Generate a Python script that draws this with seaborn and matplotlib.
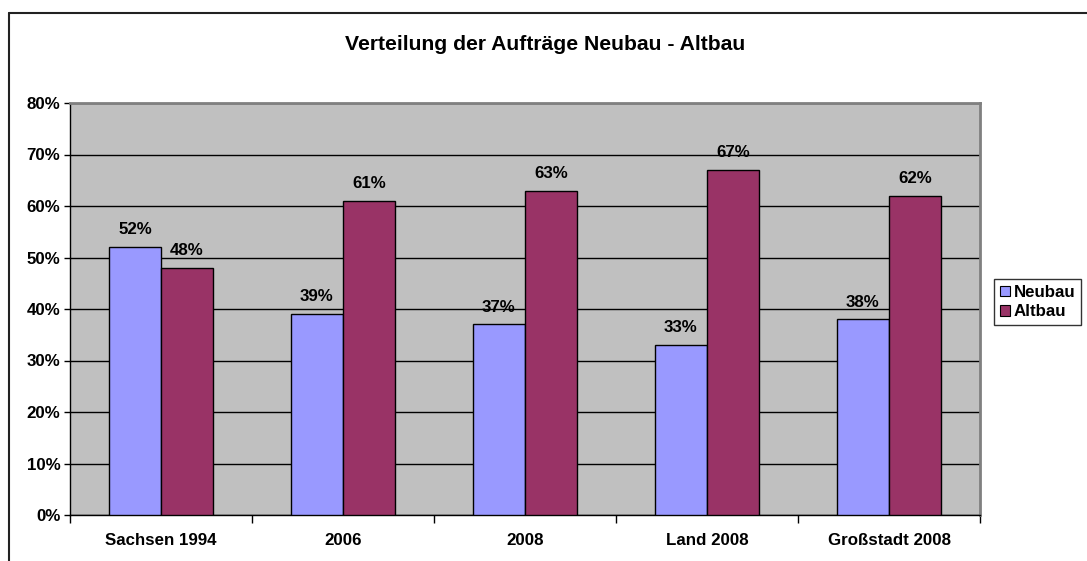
import matplotlib
matplotlib.use("Agg")
import matplotlib.pyplot as plt
import seaborn as sns
import pandas as pd
from matplotlib.lines import Line2D
from matplotlib.patches import Patch
from matplotlib.ticker import FixedLocator

categories = ["Sachsen 1994", "2006", "2008", "Land 2008", "Großstadt 2008"]
neubau = [52, 39, 37, 33, 38]
altbau = [48, 61, 63, 67, 62]
series = ["Neubau", "Altbau"]
colors = ["#9999FF", "#993366"]
yticks = [0, 10, 20, 30, 40, 50, 60, 70, 80]

df = pd.DataFrame({
    "Kategorie": categories * 2,
    "Serie": [series[0]] * len(categories) + [series[1]] * len(categories),
    "Wert": neubau + altbau,
})

sns.set_theme(style="white")
plt.rcParams["font.family"] = ["Liberation Sans", "DejaVu Sans"]
plt.rcParams["font.weight"] = "bold"
plt.rcParams["text.color"] = "black"
plt.rcParams["axes.labelcolor"] = "black"
plt.rcParams["xtick.color"] = "black"
plt.rcParams["ytick.color"] = "black"

FS = 12.2

fig = plt.figure(figsize=(10.87, 5.61), dpi=100)
ax = fig.add_axes([70 / 1087, 1 - 515 / 561, 910 / 1087, 412 / 561])
ax.set_facecolor("#C0C0C0")

sns.barplot(data=df, x="Kategorie", y="Wert", hue="Serie", order=categories,
            hue_order=series, palette=colors, width=0.572, gap=0,
            edgecolor="black", linewidth=1, saturation=1, ax=ax, legend=False,
            zorder=3)

ax.set_ylim(0, 80)
ax.set_xlim(-0.5, len(categories) - 0.5)
ax.set_yticks(yticks)
ax.set_yticklabels([f"{v}%" for v in yticks], fontsize=FS, fontweight="bold",
                   color="black")
ax.yaxis.grid(True, color="black", linewidth=1, zorder=0)
ax.set_axisbelow(True)
ax.set_xlabel("")
ax.set_ylabel("")
ax.tick_params(axis="y", direction="out", length=4, width=1, color="black",
               left=True, pad=3)
ax.set_xticks(range(len(categories)))
ax.set_xticklabels(categories, fontsize=FS, fontweight="bold", color="black")
ax.tick_params(axis="x", which="major", length=0, pad=13)
ax.xaxis.set_minor_locator(FixedLocator([i - 0.5 for i in range(len(categories) + 1)]))
ax.tick_params(axis="x", which="minor", direction="out", length=6, width=1,
               color="black", bottom=True)

for s in ["left", "bottom"]:
    ax.spines[s].set_color("black")
    ax.spines[s].set_linewidth(1)
for s in ["top", "right"]:
    ax.spines[s].set_color("#808080")
    ax.spines[s].set_linewidth(2)

for cont in ax.containers:
    ax.bar_label(cont, labels=[f"{v:.0f}%" for v in cont.datavalues],
                 padding=7, fontsize=FS, fontweight="bold", color="black")

fig.text(0.5017, 1 - 44 / 561, "Verteilung der Aufträge Neubau - Altbau",
         ha="center", va="center", fontsize=15.2, fontweight="bold",
         color="black")

# chart border
fig.add_artist(Line2D([9 / 1087, 1.0], [1 - 13 / 561, 1 - 13 / 561],
                      transform=fig.transFigure, color="#222222", linewidth=1.5))
fig.add_artist(Line2D([9 / 1087, 9 / 1087], [0.0, 1 - 13 / 561],
                      transform=fig.transFigure, color="#222222", linewidth=1.5))

handles = [Patch(facecolor=c, edgecolor="black", linewidth=0.8) for c in colors]
leg = fig.legend(handles, series, loc="upper left",
                 bbox_to_anchor=(994 / 1087, 1 - 279 / 561),
                 fontsize=FS, frameon=True, fancybox=False,
                 handlelength=0.6, handleheight=0.6, handletextpad=0.2,
                 borderpad=0.35, labelspacing=0.25, borderaxespad=0)
leg.get_frame().set_edgecolor("black")
leg.get_frame().set_linewidth(1)
for t in leg.get_texts():
    t.set_fontweight("bold")
    t.set_color("black")

fig.savefig("out.png", dpi=100, facecolor="white")
